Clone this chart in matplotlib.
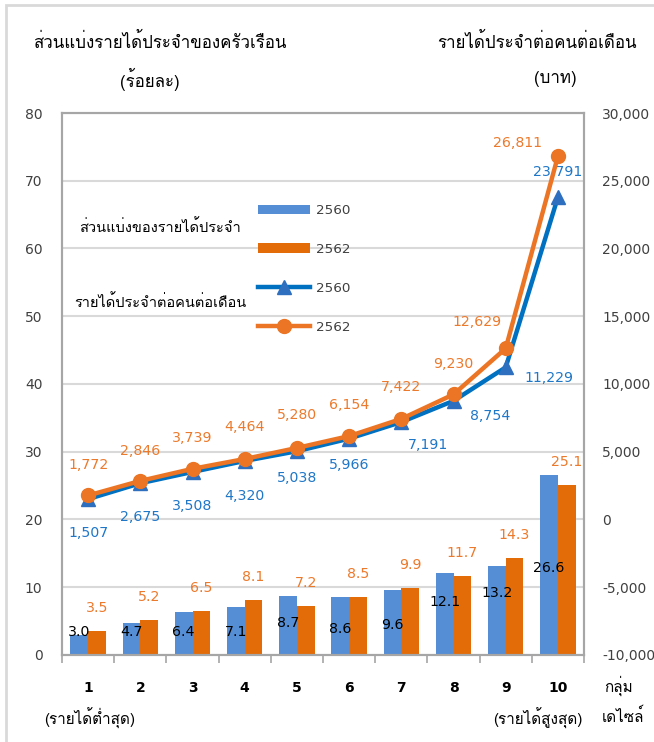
import matplotlib
matplotlib.use("Agg")
import matplotlib.pyplot as plt
from matplotlib import font_manager
from matplotlib.ft2font import FT2Font
from matplotlib.lines import Line2D
from matplotlib.patches import Patch, Rectangle
import numpy as np

# decile groups
deciles = [1, 2, 3, 4, 5, 6, 7, 8, 9, 10]

# share of regular income (%), left axis
share_2560 = [3.0, 4.7, 6.4, 7.1, 8.7, 8.6, 9.6, 12.1, 13.2, 26.6]
share_2562 = [3.5, 5.2, 6.5, 8.1, 7.2, 8.5, 9.9, 11.7, 14.3, 25.1]

# regular income per person per month (baht), right axis
income_2560 = [1507, 2675, 3508, 4320, 5038, 5966, 7191, 8754, 11229, 23791]
income_2562 = [1772, 2846, 3739, 4464, 5280, 6154, 7422, 9230, 12629, 26811]

left_ticks = [0, 10, 20, 30, 40, 50, 60, 70, 80]
right_ticks = [-10000, -5000, 0, 5000, 10000, 15000, 20000, 25000, 30000]

BLUE_BAR = "#558ED5"
ORANGE_BAR = "#E36C09"
BLUE_LINE = "#0070C0"
ORANGE_LINE = "#EB7524"
BLUE_MARK = "#2E6FBF"
BLUE_TXT = "#1F77C8"
ORANGE_TXT = "#EC7A2C"
GREY = "#404040"


def find_thai_font():
    seen = set()
    for f in font_manager.fontManager.ttflist:
        if f.fname in seen:
            continue
        seen.add(f.fname)
        try:
            cmap = FT2Font(f.fname).get_charmap()
        except Exception:
            continue
        if 0x0E2A in cmap and 0x0E48 in cmap:
            return f.name
    return None


thai = find_thai_font()
plt.rcParams["font.family"] = ["DejaVu Sans"]
THAI = [thai, "DejaVu Sans"] if thai else ["DejaVu Sans"]

fig = plt.figure(figsize=(6.54, 7.42), dpi=100)
ax = fig.add_axes([0.0948, 0.1173, 0.893 - 0.0948, 0.8477 - 0.1173])
ax2 = ax.twinx()

x = np.array(deciles, dtype=float)
w = 0.34
ax.bar(x - w / 2, share_2560, width=w, color=BLUE_BAR, zorder=2)
ax.bar(x + w / 2, share_2562, width=w, color=ORANGE_BAR, zorder=2)

ax.set_xlim(0.5, 10.5)
ax.set_ylim(0, 80)
ax.set_yticks(left_ticks)
ax.grid(axis="y", color="#D9D9D9", linewidth=1.5, zorder=0)
ax.set_axisbelow(True)
ax.set_xticks(x)
ax.set_xticklabels([str(d) for d in deciles], fontweight="bold", fontsize=10, color="black")
ax.set_xticks(np.arange(0.5, 11, 1.0), minor=True)
ax.tick_params(axis="x", which="major", length=0, pad=19)
ax.tick_params(axis="x", which="minor", length=6, color="#A6A6A6", width=1.2)
ax.tick_params(axis="y", length=0, pad=14, labelsize=10, labelcolor=GREY)

ax2.set_ylim(-10000, 30000)
ax2.set_yticks(right_ticks)
ax2.set_yticklabels([f"{t:,}" for t in right_ticks])
ax2.tick_params(axis="y", length=0, pad=13, labelsize=10, labelcolor=GREY)

for a in (ax, ax2):
    for s in a.spines.values():
        s.set_color("#A6A6A6")
        s.set_linewidth(1.5)

ax2.plot(x, income_2560, color=BLUE_LINE, linewidth=3.2, marker="^", markersize=10,
         markerfacecolor=BLUE_MARK, markeredgecolor=BLUE_MARK, zorder=3)
ax2.plot(x, income_2562, color=ORANGE_LINE, linewidth=3.2, marker="o", markersize=10,
         markerfacecolor=ORANGE_LINE, markeredgecolor=ORANGE_LINE, zorder=4)

# data labels
blue_bar_label_y = [3.4, 3.4, 3.4, 3.4, 4.7, 3.8, 4.4, 7.8, 9.1, 12.9]
for xi, v, ly in zip(x, share_2560, blue_bar_label_y):
    ax.text(xi - w / 2, ly, f"{v:.1f}", ha="center", va="center", fontsize=10.2,
            color="black", zorder=5)
for xi, v in zip(x, share_2562):
    ax.annotate(f"{v:.1f}", (xi + w / 2, v), xytext=(0, 23), textcoords="offset pixels",
                ha="center", va="center", fontsize=10.2, color=ORANGE_TXT)

orange_off = [(0, 30), (0, 30), (0, 31), (0, 32), (0, 33), (0, 31), (0, 32), (0, 30), (-29, 26), (-40, 13)]
blue_off = [(0, -34), (0, -34), (0, -34), (0, -35), (0, -27), (0, -26), (27, -23), (37, -15), (43, -11), (0, 25)]
for xi, v, off in zip(x, income_2562, orange_off):
    ax2.annotate(f"{v:,}", (xi, v), xytext=off, textcoords="offset pixels",
                 ha="center", va="center", fontsize=10.2, color=ORANGE_TXT)
for xi, v, off in zip(x, income_2560, blue_off):
    ax2.annotate(f"{v:,}", (xi, v), xytext=off, textcoords="offset pixels",
                 ha="center", va="center", fontsize=10.2, color=BLUE_TXT)

# legend
handles = [
    Patch(facecolor=BLUE_BAR),
    Patch(facecolor=ORANGE_BAR),
    Line2D([], [], color=BLUE_LINE, linewidth=3.2, marker="^", markersize=10,
           markerfacecolor=BLUE_MARK, markeredgecolor=BLUE_MARK),
    Line2D([], [], color=ORANGE_LINE, linewidth=3.2, marker="o", markersize=10,
           markerfacecolor=ORANGE_LINE, markeredgecolor=ORANGE_LINE),
]
leg = ax2.legend(handles, ["2560", "2562", "2560", "2562"], loc="upper left",
                 bbox_to_anchor=(258 / 654, 1 - 204 / 742), bbox_transform=fig.transFigure,
                 frameon=False, fontsize=9.7, handlelength=3.85, labelspacing=1.92,
                 handletextpad=0.45, borderaxespad=0, borderpad=0)
for t in leg.get_texts():
    t.set_color(GREY)
fig.text(160 / 654, 1 - 227 / 742, "ส่วนแบ่งของรายได้ประจำ", ha="center", va="center",
         fontsize=10.5, family=THAI)
fig.text(160 / 654, 1 - 302 / 742, "รายได้ประจำต่อคนต่อเดือน", ha="center", va="center",
         fontsize=10.5, family=THAI)

# titles
fig.text(160 / 654, 1 - 42 / 742, "ส่วนแบ่งรายได้ประจำของครัวเรือน", ha="center", va="center",
         fontsize=12.2, family=THAI)
fig.text(150 / 654, 1 - 79 / 742, "(ร้อยละ)", ha="center", va="center", fontsize=12.2, family=THAI)
fig.text(637 / 654, 1 - 42 / 742, "รายได้ประจำต่อคนต่อเดือน", ha="right", va="center",
         fontsize=12.2, family=THAI)
fig.text(555 / 654, 1 - 79 / 742, "(บาท)", ha="center", va="center", fontsize=12.2, family=THAI)

# x annotations
fig.text(90 / 654, 1 - 718 / 742, "(รายได้ต่ำสุด)", ha="center", va="center", fontsize=11, family=THAI)
fig.text(538 / 654, 1 - 718 / 742, "(รายได้สูงสุด)", ha="center", va="center", fontsize=11, family=THAI)
fig.text(604 / 654, 1 - 686 / 742, "กลุ่ม", ha="left", va="center", fontsize=11, family=THAI)
fig.text(602 / 654, 1 - 716 / 742, "เดไซล์", ha="left", va="center", fontsize=11, family=THAI)

# outer frame
fig.patches.append(Rectangle((6 / 654, -0.1), 1.2, 1.1 - 5 / 742, transform=fig.transFigure,
                             fill=False, edgecolor="#D9D9D9", linewidth=2))

fig.savefig("out.png", dpi=100)
